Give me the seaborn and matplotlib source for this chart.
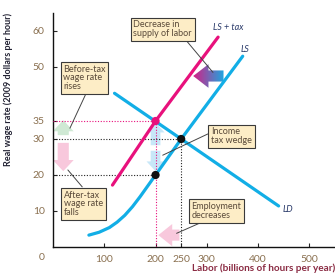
import numpy as np
import pandas as pd
import matplotlib
matplotlib.use("Agg")
import matplotlib.pyplot as plt
import seaborn as sns
from matplotlib.patches import FancyArrowPatch
from matplotlib.colors import LinearSegmentedColormap

# curves
ls_x = [70, 90, 110, 125, 140, 155, 170, 185, 200, 250, 370]
ls_y = [3.3, 4.1, 5.4, 6.9, 8.8, 11.2, 14, 17, 20, 30, 53]
lstax_x = [116, 200, 322]
lstax_y = [17.2, 35, 58.3]
ld_x = [120, 250, 440]
ld_y = [42.7, 30, 11.4]

# key points
eq_x, eq_y = [250], [30]
tax_x, tax_y = [200], [35]
after_x, after_y = [200], [20]

x_ticks = [100, 200, 250, 300, 400, 500]
y_ticks = [10, 20, 30, 35, 50, 60]

BLUE = "#12aee6"
MAG = "#e8117c"
BOX = dict(boxstyle="square,pad=0.3", fc="#fdedc6", ec="#3a3a3a", lw=0.8)
TXT = "#5a4a3a"
FS = 6.5

sns.set_style("white")
plt.rcParams["font.family"] = ["Lato", "DejaVu Sans"]

fig = plt.figure(figsize=(3.35, 2.75), dpi=100)
ax = fig.add_axes([53 / 335, 28 / 275, 282 / 335, 234 / 275])

df_ls = pd.DataFrame({"x": ls_x, "y": ls_y})
df_tax = pd.DataFrame({"x": lstax_x, "y": lstax_y})
df_ld = pd.DataFrame({"x": ld_x, "y": ld_y})
sns.lineplot(data=df_ld, x="x", y="y", color=BLUE, lw=2.3, ax=ax, sort=False, zorder=3)
sns.lineplot(data=df_ls, x="x", y="y", color=BLUE, lw=2.3, ax=ax, sort=False, zorder=3)
sns.lineplot(data=df_tax, x="x", y="y", color=MAG, lw=2.3, ax=ax, sort=False, zorder=3)

# guide lines
dot = (0, (1, 1.5))
ax.plot([0, tax_x[0]], [tax_y[0]] * 2, ls=dot, color=MAG, lw=0.8, zorder=2.7)
ax.plot([tax_x[0]] * 2, [0, tax_y[0]], ls=dot, color=MAG, lw=0.8, zorder=2.7)
ax.plot([0, eq_x[0]], [eq_y[0]] * 2, ls=dot, color="#222222", lw=0.8, zorder=2.7)
ax.plot([eq_x[0]] * 2, [0, eq_y[0]], ls=dot, color="#222222", lw=0.8, zorder=2.7)
ax.plot([0, after_x[0]], [after_y[0]] * 2, ls=dot, color="#222222", lw=0.8, zorder=2.7)

sns.scatterplot(x=tax_x, y=tax_y, color=MAG, s=35, ax=ax, zorder=5, edgecolor="none")
sns.scatterplot(x=eq_x + after_x, y=eq_y + after_y, color="#111111", s=35, ax=ax, zorder=5,
                edgecolor="none")

# wide arrows
def fat_arrow(p0, p1, color, tw=8, hw=15, hl=8):
    ar = FancyArrowPatch(p0, p1, arrowstyle=f"simple,head_width={hw},head_length={hl},tail_width={tw}",
                         mutation_scale=1, fc=color, ec="none", zorder=2.5)
    ax.add_patch(ar)
    return ar

fat_arrow((20, 30.3), (20, 36), "#cfe9d4")
fat_arrow((20, 29.7), (20, 20.3), "#f8c8dc")
fat_arrow((200, 27.5), (200, 35.3), "#c8e7f8", tw=7, hw=13, hl=7)
fat_arrow((200, 27.5), (200, 20.3), "#c8e7f8", tw=7, hw=13, hl=7)
fat_arrow((252, 3.3), (200, 3.3), "#f8c8dc", tw=8, hw=16, hl=10)

# shift arrow with blue -> magenta gradient
shift = fat_arrow((338, 47.5), (268, 47.5), "none", tw=8, hw=17, hl=11)
grad = np.linspace(0, 1, 100).reshape(1, -1)
cmap = LinearSegmentedColormap.from_list("g", [MAG, BLUE])
im = ax.imshow(grad, extent=[268, 338, 42, 53], cmap=cmap, aspect="auto", zorder=2.5)
im.set_clip_path(shift)

# callouts
ax.text(157, 60.5, "Decrease in\nsupply of labor", fontsize=FS, color=TXT, va="center",
        linespacing=0.95, bbox=BOX, zorder=6)
ax.plot([262, 312], [57, 48.5], color="#444444", lw=0.7, zorder=4)
ax.text(20, 47, "Before-tax\nwage rate\nrises", fontsize=FS, color=TXT, va="center",
        linespacing=0.95, bbox=BOX, zorder=6)
ax.plot([63, 33], [42.2, 33], color="#444444", lw=0.7, zorder=4)
ax.text(308, 30.8, "Income\ntax wedge", fontsize=FS, color=TXT, va="center",
        linespacing=0.95, bbox=BOX, zorder=6)
ax.plot([302, 214], [31.4, 25.5], color="#444444", lw=0.7, zorder=4)
ax.text(21.5, 12, "After-tax\nwage rate\nfalls", fontsize=FS, color=TXT, va="center",
        linespacing=0.95, bbox=BOX, zorder=6)
ax.plot([57, 29], [16.7, 21.4], color="#444444", lw=0.7, zorder=4)
ax.text(270, 10, "Employment\ndecreases", fontsize=FS, color=TXT, va="center",
        linespacing=0.95, bbox=BOX, zorder=6)
ax.plot([292, 241], [7, 3.8], color="#444444", lw=0.7, zorder=4)

# curve labels
ax.text(313, 61, "LS + tax", fontsize=FS, style="italic", color="#2a3a6a", va="center")
ax.text(365, 55, "LS", fontsize=FS, style="italic", color="#2a3a6a", va="center")
ax.text(447, 10.5, "LD", fontsize=FS, style="italic", color="#2a3a6a", va="center")

ax.set_xlim(0, 550)
ax.set_ylim(0, 65)
ax.set_xticks(x_ticks)
ax.set_yticks(y_ticks)
ax.tick_params(direction="in", length=3, width=0.8, labelsize=7.5, labelcolor="#8a7050",
               pad=6, left=True, bottom=True)
for s in ["top", "right"]:
    ax.spines[s].set_visible(False)
for s in ["left", "bottom"]:
    ax.spines[s].set_color("#111111")
    ax.spines[s].set_linewidth(1)
ax.set_xlabel("")
ax.set_ylabel("")
fig.text(42 / 335, 1 - 257 / 275, "0", fontsize=7.5, color="#8a7050", ha="center", va="center")
fig.text(8 / 335, 1 - 89 / 275, "Real wage rate (2009 dollars per hour)", rotation=90,
         fontsize=6.5, fontweight="bold", color="#222233", ha="center", va="center")
fig.text(192 / 335, 1 - 268 / 275, "Labor (billions of hours per year)", fontsize=7.2,
         fontweight="bold", color="#8b2c44", ha="left", va="center")

fig.savefig("out.png", dpi=100)
